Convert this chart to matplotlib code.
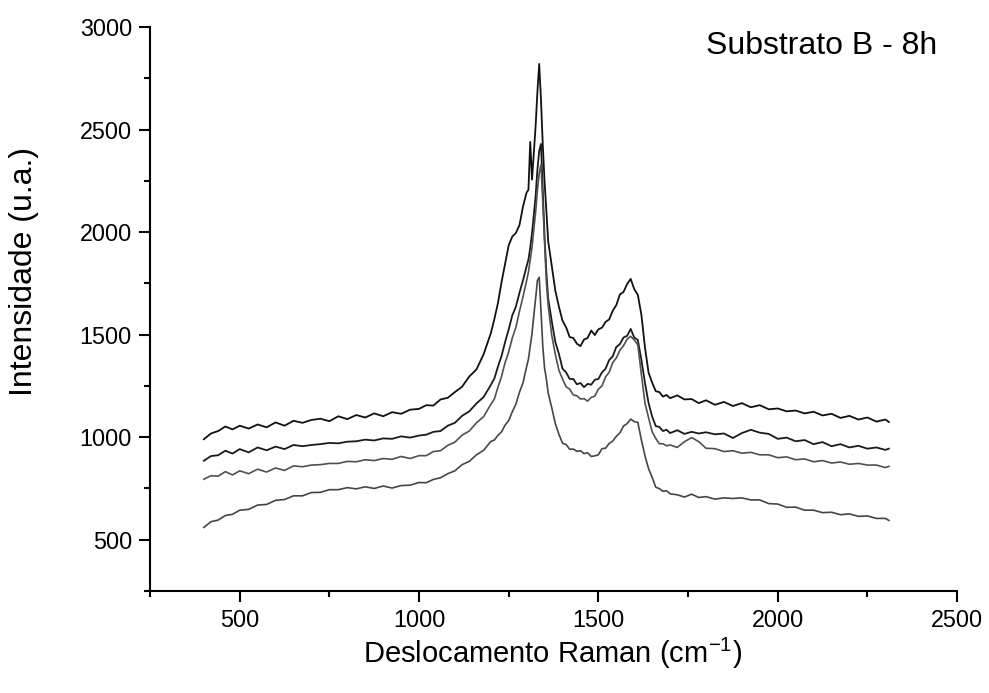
import matplotlib
matplotlib.use("Agg")
import matplotlib.pyplot as plt
from matplotlib.ticker import MultipleLocator

plt.rcParams['font.family'] = ['Liberation Sans', 'DejaVu Sans']
plt.rcParams['mathtext.fontset'] = 'custom'
plt.rcParams['mathtext.rm'] = 'Liberation Sans'
plt.rcParams['mathtext.it'] = 'Liberation Sans'

# Raman shift grid (cm-1)
shift = [400, 420, 440, 460, 480,
         500, 525, 550, 575, 600, 625, 650, 675, 700, 725, 750, 775, 800, 825, 850, 875, 900, 925, 950, 975, 1000,
         1020, 1040, 1060, 1080, 1100, 1120, 1140, 1160, 1180, 1200,
         1210, 1220, 1230, 1240, 1250, 1260, 1270, 1280, 1290, 1300,
         1305, 1310, 1315, 1320, 1325, 1330, 1335, 1340, 1345, 1350, 1355, 1360,
         1370, 1380, 1390, 1400, 1410, 1420, 1430, 1440, 1450, 1460, 1470, 1480, 1490, 1500,
         1510, 1520, 1530, 1540, 1550, 1560, 1570, 1580, 1590, 1600, 1610, 1620, 1630, 1640,
         1650, 1660, 1670, 1680, 1690, 1700,
         1720, 1740, 1760, 1780, 1800,
         1825, 1850, 1875, 1900, 1925, 1950, 1975, 2000, 2025, 2050, 2075, 2100, 2125, 2150,
         2175, 2200, 2225, 2250, 2275, 2300, 2310]

spec_a = [990, 1018, 1030, 1052, 1038,
          1056, 1042, 1062, 1048, 1072, 1056, 1080, 1070, 1084, 1090, 1078, 1102, 1088, 1108, 1096, 1116, 1102, 1122, 1114, 1134, 1138,
          1156, 1154, 1184, 1192, 1220, 1246, 1296, 1330, 1404, 1506,
          1576, 1654, 1756, 1846, 1936, 1978, 1996, 2034, 2126, 2194,
          2206, 2440, 2256, 2386, 2516, 2684, 2820, 2646, 2424, 2246, 2104, 1956,
          1836, 1714, 1636, 1568, 1536, 1488, 1484, 1456, 1444, 1476, 1484, 1520, 1498, 1526,
          1534, 1562, 1574, 1616, 1644, 1696, 1708, 1746, 1772, 1722, 1694, 1596, 1436, 1314,
          1266, 1224, 1220, 1198, 1206, 1190,
          1204, 1184, 1186, 1166, 1180,
          1158, 1172, 1152, 1166, 1146, 1156, 1136, 1140, 1126, 1130, 1116, 1124, 1106, 1114,
          1094, 1104, 1086, 1096, 1076, 1086, 1074]

spec_b = [885, 908, 912, 934, 920,
          942, 926, 950, 936, 954, 942, 962, 956, 962, 966, 972, 970, 978, 980, 988, 984, 994, 992, 1004, 998, 1008,
          1012, 1026, 1030, 1056, 1070, 1104, 1126, 1164, 1196, 1254,
          1286, 1344, 1396, 1464, 1526, 1594, 1636, 1704, 1766, 1834,
          1866, 1924, 1996, 2084, 2176, 2304, 2396, 2430, 2204, 1976, 1804, 1676,
          1566, 1464, 1406, 1334, 1316, 1284, 1284, 1258, 1264, 1244, 1260, 1256, 1280, 1284,
          1316, 1334, 1376, 1394, 1440, 1454, 1486, 1494, 1528, 1486, 1474, 1376, 1264, 1166,
          1100, 1054, 1050, 1030, 1036, 1020,
          1034, 1016, 1026, 1018, 1024,
          1014, 1018, 996, 1020, 1036, 1022, 1016, 992, 998, 980, 986, 966, 976, 956,
          966, 950, 958, 944, 950, 938, 944]

spec_c = [795, 812, 810, 832, 816,
          836, 822, 844, 830, 850, 838, 860, 856, 864, 866, 872, 872, 882, 880, 890, 886, 896, 892, 906, 896, 910,
          910, 930, 934, 960, 976, 1010, 1030, 1070, 1100, 1160,
          1186, 1244, 1296, 1364, 1416, 1484, 1536, 1614, 1686, 1764,
          1806, 1864, 1926, 2014, 2096, 2204, 2286, 2330, 2146, 1954, 1756, 1644,
          1496, 1404, 1326, 1284, 1246, 1234, 1206, 1202, 1186, 1188, 1176, 1194, 1200, 1234,
          1250, 1294, 1316, 1364, 1386, 1424, 1446, 1478, 1492, 1474, 1450, 1304, 1166, 1094,
          1026, 994, 968, 968, 958, 962,
          950, 978, 998, 978, 946,
          944, 930, 934, 922, 926, 914, 914, 900, 904, 890, 894, 880, 886, 874,
          879, 868, 872, 864, 864, 852, 858]

spec_d = [560, 588, 596, 618, 624,
          644, 648, 669, 672, 692, 696, 714, 714, 730, 731, 744, 744, 754, 748, 758, 750, 762, 752, 764, 766, 779,
          778, 794, 802, 822, 836, 866, 882, 914, 936, 979,
          986, 1009, 1026, 1059, 1081, 1124, 1161, 1219, 1266, 1344,
          1381, 1444, 1506, 1594, 1676, 1764, 1780, 1616, 1444, 1336, 1284, 1216,
          1144, 1066, 1014, 971, 964, 941, 942, 931, 934, 920, 924, 906, 909, 914,
          944, 946, 969, 981, 1004, 1021, 1054, 1066, 1088, 1076, 1072, 986, 909, 846,
          804, 756, 749, 736, 739, 724,
          719, 708, 722, 706, 710,
          698, 704, 701, 704, 694, 694, 676, 674, 658, 659, 644, 644, 632, 634,
          622, 626, 614, 616, 604, 604, 594]

fig = plt.figure(figsize=(9.89, 6.93), dpi=100)
ax = fig.add_axes([0.1517, 0.1472, 0.8160, 0.8138])

ax.plot(shift, spec_a, color='#111111', lw=1.3)
ax.plot(shift, spec_b, color='#1a1a1a', lw=1.3)
ax.plot(shift, spec_c, color='#505050', lw=1.2)
ax.plot(shift, spec_d, color='#454545', lw=1.2)

ax.set_xlim(250, 2500)
ax.set_ylim(250, 3000)
ax.xaxis.set_major_locator(MultipleLocator(500))
ax.xaxis.set_minor_locator(MultipleLocator(250))
ax.yaxis.set_major_locator(MultipleLocator(500))
ax.yaxis.set_minor_locator(MultipleLocator(250))
ax.set_xticks([500, 1000, 1500, 2000, 2500])
ax.set_yticks([500, 1000, 1500, 2000, 2500, 3000])

for s in ['top', 'right']:
    ax.spines[s].set_visible(False)
for s in ['left', 'bottom']:
    ax.spines[s].set_linewidth(1.5)

ax.tick_params(which='major', direction='out', length=8, width=1.5, labelsize=16.8, pad=5)
ax.tick_params(which='minor', direction='out', length=4.5, width=1.5)

ax.set_xlabel(r'Deslocamento Raman (cm$^{\mathregular{-1}}$)', fontsize=21)
ax.xaxis.set_label_coords(0.499, -0.079)
ax.set_ylabel('Intensidade (u.a.)', fontsize=23)
ax.yaxis.set_label_coords(-0.137, 0.567)

ax.text(0.976, 0.966, 'Substrato B - 8h', transform=ax.transAxes, ha='right', va='center', fontsize=23)

fig.savefig('out.png', dpi=100)
